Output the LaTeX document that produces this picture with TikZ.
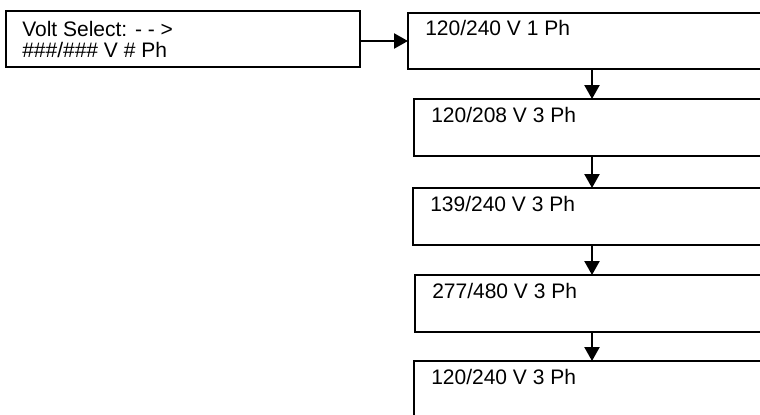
\documentclass[tikz,border=0pt]{standalone}
\usepackage{fontspec}
\setmainfont{Liberation Sans}
\usetikzlibrary{arrows.meta,positioning}
\tikzset{
  vsbox/.style={draw=black, line width=1.8pt, fill=white, inner sep=0pt, outer sep=0pt, minimum height=42pt},
  vstext/.style={inner sep=0pt, align=left, font=\fontsize{15.75pt}{15.75pt}\selectfont},
  vsline/.style={-{Triangle[length=10.5pt,width=11.25pt]}, line width=1.8pt}
}
\begin{document}
\begin{tikzpicture}[x=0.75pt,y=-0.75pt]
  \clip (0,0) rectangle (760,414);

  \node[vsbox, minimum width=265.5pt] (vsel) at (183,39) {};
  \node[vsbox, minimum width=276pt] (v1) at (592,41) {};
  \node[vsbox, minimum width=267pt, minimum height=42.75pt] (v2) at (592,127.5) {};
  \node[vsbox, minimum width=268.5pt, minimum height=42.75pt] (v3) at (592,216.5) {};
  \node[vsbox, minimum width=265.5pt, minimum height=42.75pt] (v4) at (592,303.5) {};
  \node[vsbox, minimum width=267pt, minimum height=42.75pt] (v5) at (592,389.5) {};

  \node[vstext, anchor=west] (vseltext) at ([shift={(16,0)}]vsel.west) {Volt Select: - - >\\\#\#\#/\#\#\# V \# Ph};
  \node[vstext, anchor=base west] (v1text) at ([shift={(17,23)}]v1.north west) {120/240 V 1 Ph};
  \node[vstext, anchor=base west] (v2text) at ([shift={(17,23)}]v2.north west) {120/208 V 3 Ph};
  \node[vstext, anchor=base west] (v3text) at ([shift={(17,23)}]v3.north west) {139/240 V 3 Ph};
  \node[vstext, anchor=base west] (v4text) at ([shift={(17,23)}]v4.north west) {277/480 V 3 Ph};
  \node[vstext, anchor=base west] (v5text) at ([shift={(17,23)}]v5.north west) {120/240 V 3 Ph};

  \draw[vsline] (v1.west -| vsel.east) -- (v1.west);
  \draw[vsline] (v1.south) -- (v2.north);
  \draw[vsline] (v2.south) -- (v3.north);
  \draw[vsline] (v3.south) -- (v4.north);
  \draw[vsline] (v4.south) -- (v5.north);
\end{tikzpicture}
\end{document}
